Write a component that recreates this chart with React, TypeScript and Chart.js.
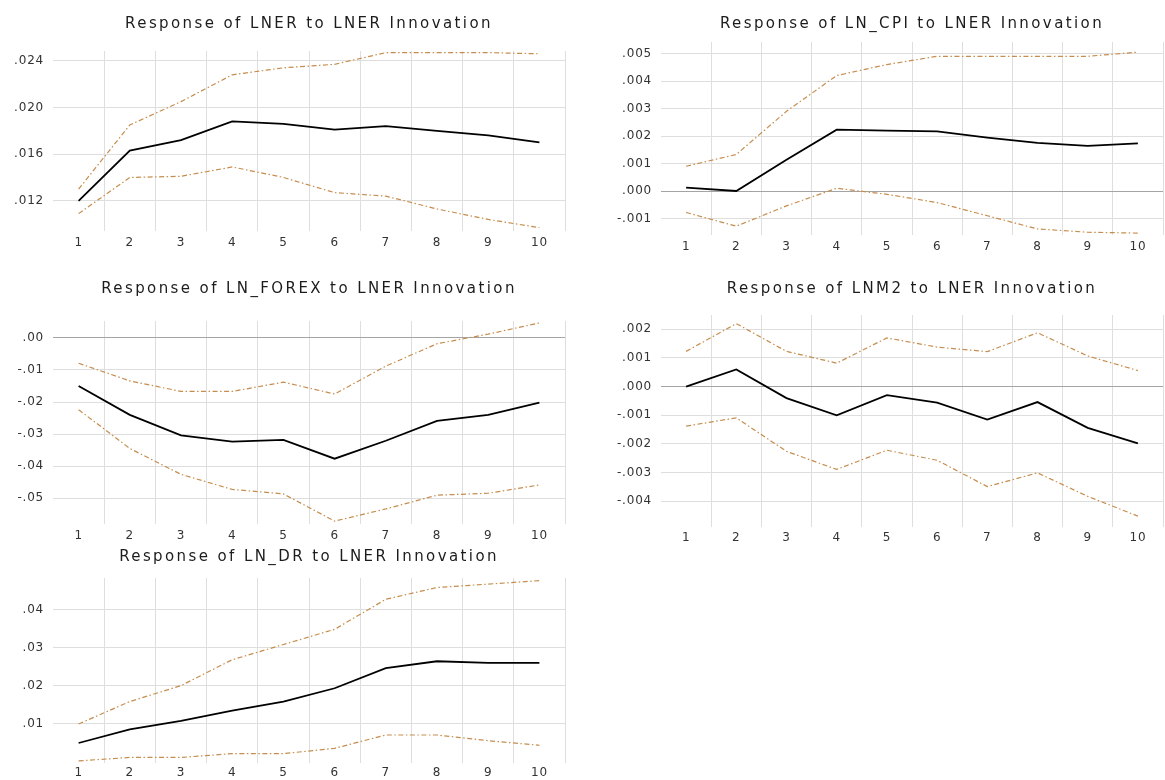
import React, { useEffect, useRef } from 'react';
import { Chart, registerables } from 'chart.js';

Chart.register(...registerables);

// ---------- data ----------
const PERIODS = ['1', '2', '3', '4', '5', '6', '7', '8', '9', '10'];

const LNER_RESP = [0.0120, 0.0163, 0.0172, 0.0188, 0.0186, 0.0181, 0.0184, 0.0180, 0.0176, 0.0170];
const LNER_UPPER = [0.0130, 0.0185, 0.0205, 0.0228, 0.0234, 0.0237, 0.0247, 0.0247, 0.0247, 0.0246];
const LNER_LOWER = [0.0109, 0.0140, 0.0141, 0.0149, 0.0140, 0.0127, 0.0124, 0.0113, 0.0104, 0.0097];

const CPI_RESP = [0.00012, 0.0000, 0.00114, 0.00223, 0.0022, 0.00217, 0.00194, 0.00175, 0.00164, 0.00173];
const CPI_UPPER = [0.0009, 0.00133, 0.0029, 0.0042, 0.0046, 0.0049, 0.0049, 0.0049, 0.0049, 0.00505];
const CPI_LOWER = [-0.00078, -0.00128, -0.00054, 0.0001, -0.00012, -0.00042, -0.0009, -0.00138, -0.0015, -0.00153];

const FOREX_RESP = [-0.0150, -0.0240, -0.0304, -0.0324, -0.0318, -0.0377, -0.0321, -0.0259, -0.0240, -0.0202];
const FOREX_UPPER = [-0.0079, -0.0134, -0.0167, -0.0167, -0.0138, -0.0175, -0.0088, -0.0018, 0.0012, 0.0047];
const FOREX_LOWER = [-0.0224, -0.0345, -0.0426, -0.0473, -0.0487, -0.0572, -0.0534, -0.0491, -0.0485, -0.0459];

const M2_RESP = [0.0000, 0.0006, -0.0004, -0.0010, -0.0003, -0.00056, -0.00115, -0.00054, -0.00144, -0.00198];
const M2_UPPER = [0.00123, 0.0022, 0.00123, 0.00082, 0.0017, 0.00138, 0.00122, 0.00188, 0.00107, 0.00056];
const M2_LOWER = [-0.00138, -0.00109, -0.00226, -0.00289, -0.00222, -0.00257, -0.00349, -0.00301, -0.00383, -0.00452];

const DR_RESP = [0.0050, 0.0086, 0.0108, 0.0135, 0.0159, 0.0194, 0.0247, 0.0265, 0.0261, 0.0261];
const DR_UPPER = [0.0100, 0.0159, 0.0201, 0.0269, 0.0309, 0.0349, 0.0428, 0.0459, 0.0468, 0.0477];
const DR_LOWER = [0.0003, 0.0012, 0.0012, 0.0022, 0.0022, 0.0036, 0.0071, 0.0071, 0.0056, 0.0044];

const LNER_TICKS = [0.012, 0.016, 0.020, 0.024];
const LNER_TICK_LABELS = ['.012', '.016', '.020', '.024'];
const CPI_TICKS = [-0.001, 0, 0.001, 0.002, 0.003, 0.004, 0.005];
const CPI_TICK_LABELS = ['-.001', '.000', '.001', '.002', '.003', '.004', '.005'];
const FOREX_TICKS = [-0.05, -0.04, -0.03, -0.02, -0.01, 0];
const FOREX_TICK_LABELS = ['-.05', '-.04', '-.03', '-.02', '-.01', '.00'];
const M2_TICKS = [-0.004, -0.003, -0.002, -0.001, 0, 0.001, 0.002];
const M2_TICK_LABELS = ['-.004', '-.003', '-.002', '-.001', '.000', '.001', '.002'];
const DR_TICKS = [0.01, 0.02, 0.03, 0.04];
const DR_TICK_LABELS = ['.01', '.02', '.03', '.04'];

// ---------- styling / layout ----------
const FONT = 'DejaVu Sans';
const GRID = '#dedede';
const ZERO = '#a4a4a4';
const BAND = '#c68d4e';
const TITLE_SPACING = '2.4px';
const TICK_SPACING = '0.8px';

type Panel = {
  title: string;
  resp: number[];
  upper: number[];
  lower: number[];
  ticks: number[];
  tickLabels: string[];
  min: number;
  max: number;
  left: number;
  top: number;
  width: number;
  height: number;
  yWidth: number;
  padRight: number;
  titlePadTop: number;
  titlePadBottom: number;
  xHeight: number;
  xPad: number;
};

// title font 15px * 1.2 = 18px line
const PANELS: Panel[] = [
  {
    title: 'Response of LNER to LNER Innovation',
    resp: LNER_RESP, upper: LNER_UPPER, lower: LNER_LOWER,
    ticks: LNER_TICKS, tickLabels: LNER_TICK_LABELS,
    min: 0.00941, max: 0.02484,
    left: 0, top: 0, width: 580, height: 262,
    yWidth: 53, padRight: 15, titlePadTop: 15, titlePadBottom: 18, xHeight: 31, xPad: 5,
  },
  {
    title: 'Response of LN_CPI to LNER Innovation',
    resp: CPI_RESP, upper: CPI_UPPER, lower: CPI_LOWER,
    ticks: CPI_TICKS, tickLabels: CPI_TICK_LABELS,
    min: -0.0016, max: 0.00542,
    left: 580, top: 0, width: 585, height: 262,
    yWidth: 81, padRight: 2, titlePadTop: 15, titlePadBottom: 9, xHeight: 27, xPad: 5,
  },
  {
    title: 'Response of LN_FOREX to LNER Innovation',
    resp: FOREX_RESP, upper: FOREX_UPPER, lower: FOREX_LOWER,
    ticks: FOREX_TICKS, tickLabels: FOREX_TICK_LABELS,
    min: -0.0581, max: 0.0053,
    left: 0, top: 262, width: 580, height: 290,
    yWidth: 53, padRight: 15, titlePadTop: 18, titlePadBottom: 23, xHeight: 28, xPad: 5,
  },
  {
    title: 'Response of LNM2 to LNER Innovation',
    resp: M2_RESP, upper: M2_UPPER, lower: M2_LOWER,
    ticks: M2_TICKS, tickLabels: M2_TICK_LABELS,
    min: -0.0049, max: 0.0025,
    left: 580, top: 262, width: 585, height: 290,
    yWidth: 81, padRight: 2, titlePadTop: 18, titlePadBottom: 17, xHeight: 25, xPad: 4,
  },
  {
    title: 'Response of LN_DR to LNER Innovation',
    resp: DR_RESP, upper: DR_UPPER, lower: DR_LOWER,
    ticks: DR_TICKS, tickLabels: DR_TICK_LABELS,
    min: -0.00026, max: 0.0484,
    left: 0, top: 520, width: 580, height: 260,
    yWidth: 53, padRight: 15, titlePadTop: 28, titlePadBottom: 12, xHeight: 17, xPad: 3,
  },
];

const spacedText = {
  id: 'spacedText',
  afterInit(chart: any) {
    const tb = chart.titleBlock;
    if (!tb || tb.__spaced) return;
    const orig = tb.draw.bind(tb);
    tb.draw = (...args: any[]) => {
      const ctx = chart.ctx as any;
      ctx.save();
      ctx.letterSpacing = TITLE_SPACING;
      orig(...args);
      ctx.restore();
    };
    tb.__spaced = true;
  },
  beforeDraw(chart: any) {
    Object.values(chart.scales).forEach((s: any) => {
      if (s.__spaced) return;
      const orig = s.drawLabels.bind(s);
      s.drawLabels = (...args: any[]) => {
        const ctx = chart.ctx as any;
        ctx.save();
        ctx.letterSpacing = TICK_SPACING;
        orig(...args);
        ctx.restore();
      };
      s.__spaced = true;
    });
  },
};

function IrfChart({ p }: { p: Panel }) {
  const ref = useRef<HTMLCanvasElement | null>(null);

  useEffect(() => {
    if (!ref.current) return;
    const band = (data: number[]) => ({
      data,
      borderColor: BAND,
      borderWidth: 1.2,
      borderDash: [5, 2.5, 1.5, 2.5],
      pointRadius: 0,
      tension: 0,
      fill: false,
    });
    const chart = new Chart(ref.current, {
      type: 'line',
      data: {
        labels: PERIODS,
        datasets: [
          band(p.upper),
          band(p.lower),
          {
            data: p.resp,
            borderColor: '#000000',
            borderWidth: 1.8,
            pointRadius: 0,
            tension: 0,
            fill: false,
          },
        ],
      },
      options: {
        responsive: false,
        animation: false,
        devicePixelRatio: 1,
        layout: { padding: { left: 0, right: p.padRight, top: 0, bottom: 0 } },
        plugins: {
          legend: { display: false },
          tooltip: { enabled: false },
          title: {
            display: true,
            text: p.title,
            fullSize: false,
            color: '#1c1c1c',
            font: { family: FONT, size: 15, weight: 'normal', lineHeight: 1.2 },
            padding: { top: p.titlePadTop, bottom: p.titlePadBottom },
          },
        },
        scales: {
          x: {
            type: 'category',
            offset: true,
            border: { display: false },
            grid: {
              offset: true,
              drawTicks: false,
              lineWidth: 1,
              color: (c: any) => (c.index === 0 || c.index === PERIODS.length ? 'rgba(0,0,0,0)' : GRID),
            },
            ticks: {
              color: '#333333',
              font: { family: FONT, size: 12 },
              padding: p.xPad,
              maxRotation: 0,
              autoSkip: false,
            },
            afterFit: (s: any) => {
              s.height = p.xHeight;
            },
          },
          y: {
            type: 'linear',
            min: p.min,
            max: p.max,
            border: { display: false },
            grid: {
              drawTicks: false,
              lineWidth: 1,
              color: (c: any) => (c.tick && Math.abs(c.tick.value) < 1e-12 ? ZERO : GRID),
            },
            ticks: {
              color: '#333333',
              font: { family: FONT, size: 12 },
              padding: 9,
              callback: (_v: any, i: number) => p.tickLabels[i],
            },
            afterBuildTicks: (axis: any) => {
              axis.ticks = p.ticks.map((v) => ({ value: v }));
            },
            afterFit: (s: any) => {
              s.width = p.yWidth;
            },
          },
        },
      } as any,
      plugins: [spacedText],
    });
    chart.draw();
    return () => chart.destroy();
  }, [p]);

  return (
    <canvas
      ref={ref}
      width={p.width}
      height={p.height}
      style={{
        position: 'absolute',
        left: p.left,
        top: p.top,
        width: p.width,
        height: p.height,
        display: 'block',
      }}
    />
  );
}

export default function App() {
  return (
    <div
      style={{
        position: 'absolute',
        left: 0,
        top: 0,
        width: 1165,
        height: 780,
        background: '#ffffff',
        overflow: 'hidden',
      }}
    >
      {PANELS.map((p, i) => (
        <IrfChart key={i} p={p} />
      ))}
    </div>
  );
}
